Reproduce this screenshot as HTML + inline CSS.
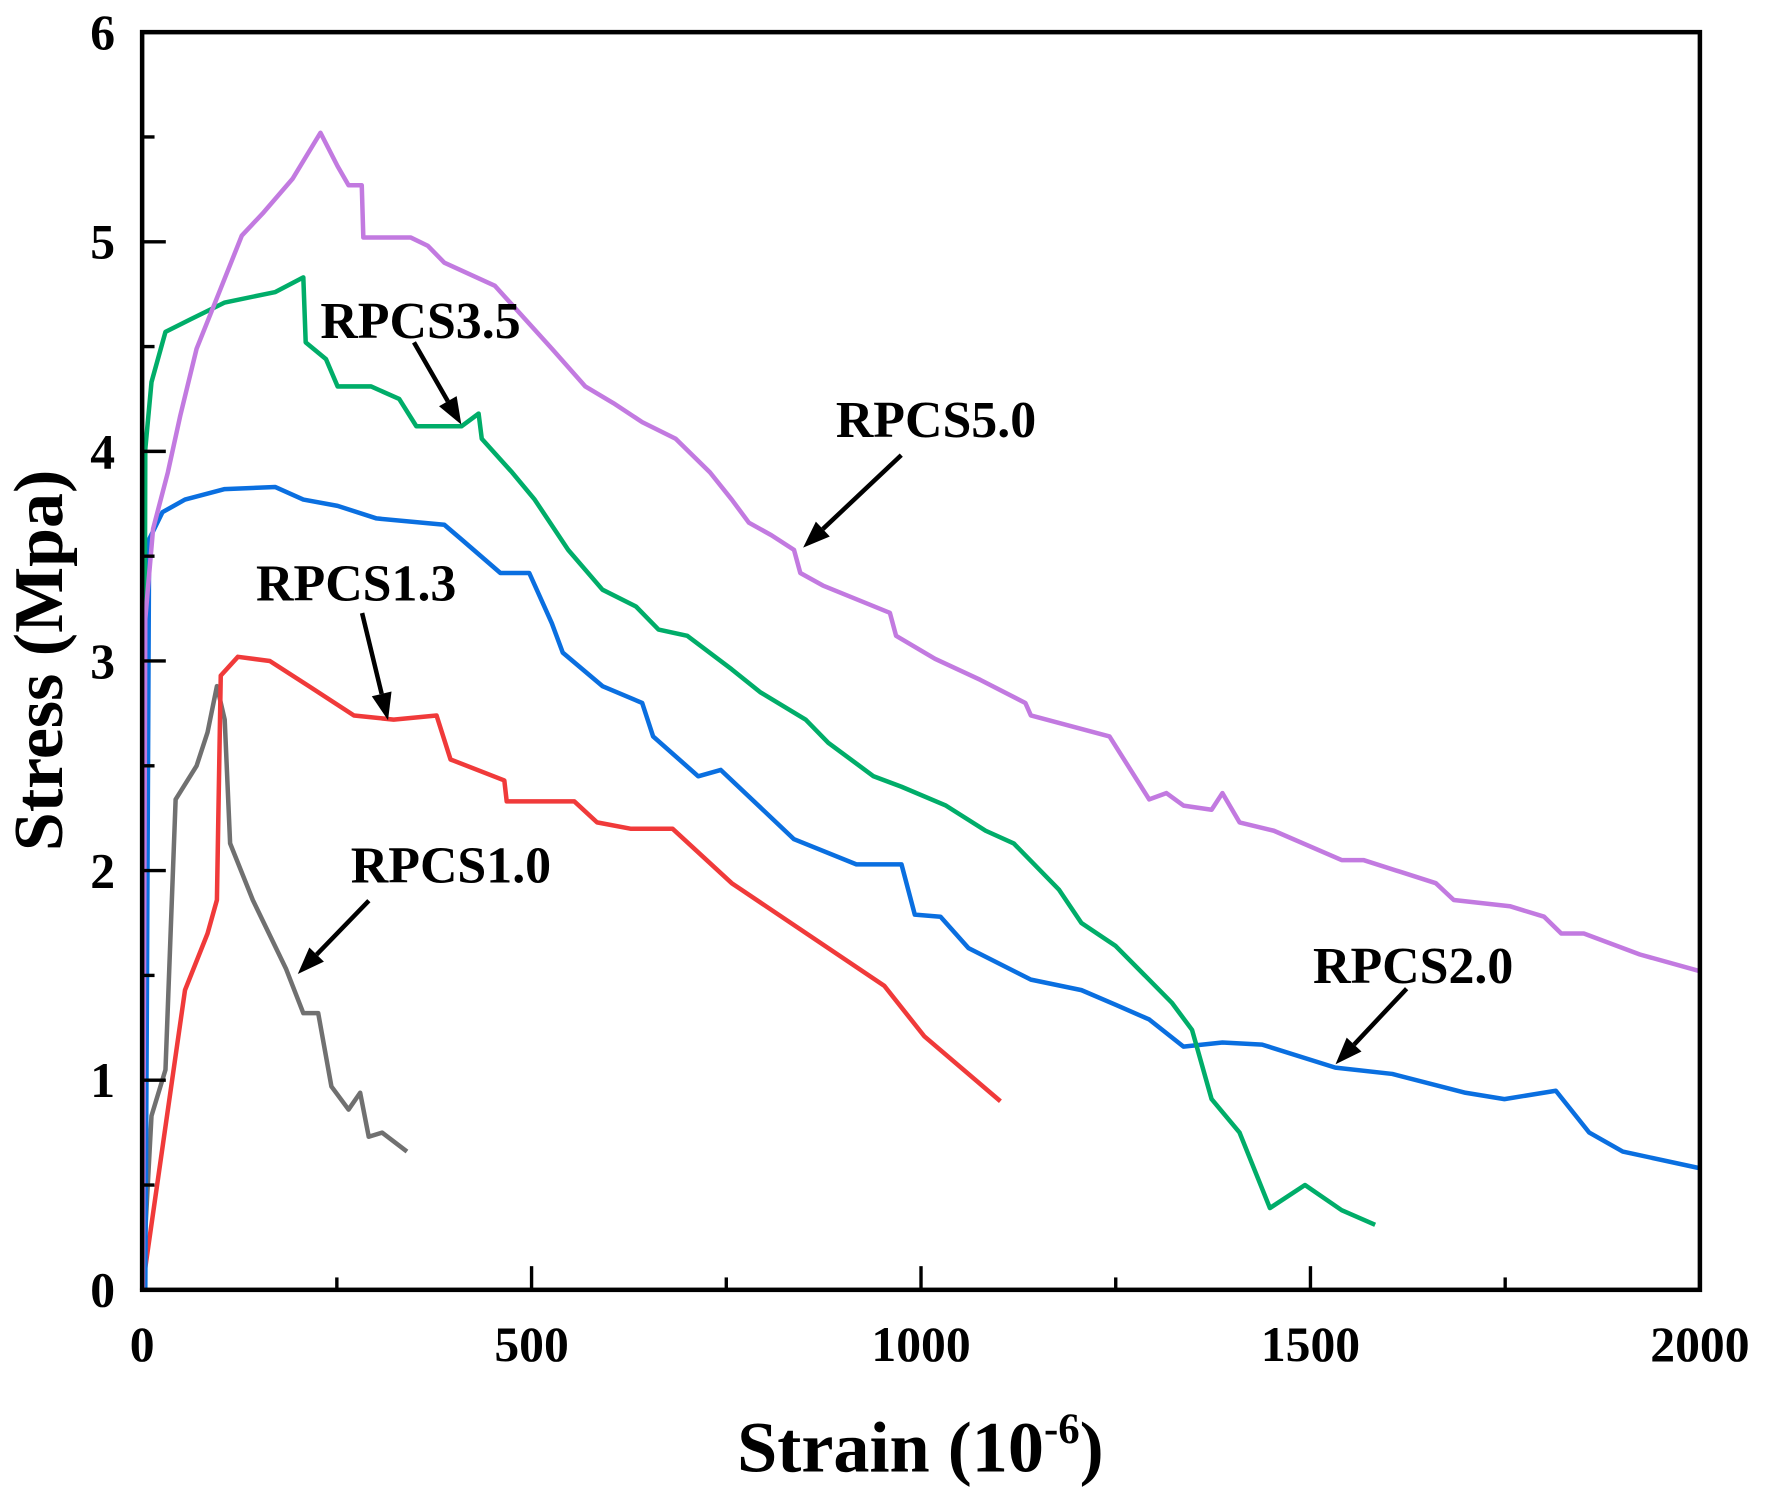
<!DOCTYPE html>
<html><head><meta charset="utf-8"><style>
html,body{margin:0;padding:0;background:#fff;}
svg{display:block;}
text{font-family:"Liberation Serif",serif;font-weight:bold;fill:#000;}
</style></head><body>
<svg id="chart" width="1766" height="1509" viewBox="1 1.5 1565.6 1337.8" preserveAspectRatio="none" xmlns="http://www.w3.org/2000/svg">
<g id="series"></g>
<g id="axes"></g>
<g id="annot"></g>
</svg>
<script>
const xTicks=[0,500,1000,1500,2000];
const yTicks=[0,1,2,3,4,5,6];
const seriesNames=["RPCS1.0","RPCS1.3","RPCS2.0","RPCS3.5","RPCS5.0"];
const seriesColors=["#707070","#f03a3a","#0a6fe0","#00ad69","#c27ae0"];
const s10x=[0,12,30,43,70,84,96,106,113,142,185,207,226,243,265,280,291,308,340];
const s10y=[0,0.83,1.05,2.34,2.5,2.66,2.88,2.72,2.13,1.86,1.53,1.32,1.32,0.97,0.86,0.94,0.73,0.75,0.66];
const s13x=[0,55,84,96,101,123,164,214,272,323,378,396,465,468,555,584,627,681,757,953,1004,1102];
const s13y=[0,1.43,1.70,1.86,2.93,3.02,3.0,2.88,2.74,2.72,2.74,2.53,2.43,2.33,2.33,2.23,2.2,2.2,1.94,1.45,1.21,0.9];
const s20x=[4,6,9,26,55,106,171,207,251,301,388,410,460,497,526,540,591,642,656,714,743,837,917,975,992,1025,1061,1141,1206,1250,1293,1337,1387,1438,1532,1605,1699,1749,1815,1858,1901,2000];
const s20y=[0,1.26,3.58,3.71,3.77,3.82,3.83,3.77,3.74,3.68,3.65,3.58,3.42,3.42,3.18,3.04,2.88,2.8,2.64,2.45,2.48,2.15,2.03,2.03,1.79,1.78,1.63,1.48,1.43,1.36,1.29,1.16,1.18,1.17,1.06,1.03,0.94,0.91,0.95,0.75,0.66,0.58];
const s35x=[1,4,12,30,62,106,171,207,210,236,251,294,330,352,410,432,436,475,504,547,591,634,663,700,757,794,852,881,939,975,1032,1083,1119,1177,1206,1250,1322,1348,1373,1409,1448,1493,1540,1583];
const s35y=[0,4.01,4.33,4.57,4.63,4.71,4.76,4.83,4.52,4.44,4.31,4.31,4.25,4.12,4.12,4.18,4.06,3.9,3.77,3.53,3.34,3.26,3.15,3.12,2.96,2.85,2.72,2.61,2.45,2.4,2.31,2.19,2.13,1.91,1.75,1.64,1.37,1.24,0.91,0.75,0.39,0.5,0.38,0.31];
const s50x=[1,4,14,33,49,70,99,128,156,193,229,251,265,282,284,345,367,388,453,526,569,605,642,685,729,757,779,808,837,845,874,960,968,1018,1076,1134,1141,1242,1293,1315,1337,1373,1387,1409,1453,1540,1568,1619,1661,1684,1756,1800,1822,1851,1923,2000];
const s50y=[0,3.2,3.63,3.9,4.17,4.49,4.76,5.03,5.14,5.3,5.52,5.36,5.27,5.27,5.02,5.02,4.98,4.9,4.79,4.49,4.31,4.23,4.14,4.06,3.9,3.77,3.66,3.6,3.53,3.42,3.36,3.23,3.12,3.01,2.91,2.8,2.74,2.64,2.34,2.37,2.31,2.29,2.37,2.23,2.19,2.05,2.05,1.99,1.94,1.86,1.83,1.78,1.7,1.7,1.6,1.52];
const seriesX=[s10x,s13x,s20x,s35x,s50x];
const seriesY=[s10y,s13y,s20y,s35y,s50y];

const NS="http://www.w3.org/2000/svg";
const L=127,R=1508,T=30,B=1145;
function xs(v){return L+(v/2000)*(R-L);}
function ys(v){return B-(v/6)*(B-T);}
function mk(tag,attrs,parent){const e=document.createElementNS(NS,tag);for(const k in attrs)e.setAttribute(k,attrs[k]);parent.appendChild(e);return e;}
const gS=document.getElementById('series'),gA=document.getElementById('axes'),gN=document.getElementById('annot');

for(let i=0;i<seriesNames.length;i++){
  const pts=seriesX[i].map((x,j)=>xs(x).toFixed(1)+','+ys(seriesY[i][j]).toFixed(1)).join(' ');
  const p=mk('polyline',{points:pts,fill:'none',stroke:seriesColors[i],'stroke-width':4,'stroke-linejoin':'round'},gS);
  
  
}
const fr=mk('rect',{x:L,y:T,width:R-L,height:B-T,fill:'none',stroke:'#000','stroke-width':4},gA);


for(let v=0;v<=2000;v+=250){
  const major=v%500===0;
  const t=mk('line',{x1:xs(v),x2:xs(v),y1:B,y2:B-(major?21:11),stroke:'#000','stroke-width':3},gA);
  
  
}
xTicks.forEach(v=>{
  const t=mk('text',{x:xs(v),y:1208,'font-size':44,'text-anchor':'middle'},gA);
  t.textContent=v;
  
  
});
for(let v=0;v<=6;v+=0.5){
  const major=Number.isInteger(v);
  const t=mk('line',{x1:L,x2:L+(major?21:11),y1:ys(v),y2:ys(v),stroke:'#000','stroke-width':3},gA);
  
  
}
yTicks.forEach(v=>{
  const t=mk('text',{x:103,y:ys(v)+15,'font-size':44,'text-anchor':'end'},gA);
  t.textContent=v;
  
  
});
const xt=mk('text',{x:817,y:1306,'font-size':64,'text-anchor':'middle'},gA);
xt.innerHTML='Strain (10<tspan dy="-25" font-size="38">-6</tspan><tspan dy="25">)</tspan>';


const yt=mk('text',{x:0,y:0,'font-size':62,'text-anchor':'middle',transform:'translate(56,587) rotate(-90)'},gA);
yt.textContent='Stress (Mpa)';


const labels=[["RPCS3.5",285,301,368,305,410,378],["RPCS5.0",742,389,800,405,713,487],["RPCS1.3",228,534,322,545,345,640],["RPCS1.0",312,784,328,800,265,865],["RPCS2.0",1165,873,1248,878,1185,945]];
labels.forEach(a=>{
  const t=mk('text',{x:a[1],y:a[2],'font-size':46},gN);
  t.textContent=a[0];
  
  
  const dx=a[5]-a[3],dy=a[6]-a[4],len=Math.hypot(dx,dy),ux=dx/len,uy=dy/len;
  const hx=a[5]-ux*24,hy=a[6]-uy*24;
  const ln=mk('line',{x1:a[3],y1:a[4],x2:hx,y2:hy,stroke:'#000','stroke-width':4},gN);
  
  
  const px=-uy,py=ux;
  const hd=mk('polygon',{points:`${a[5]},${a[6]} ${hx+px*9},${hy+py*9} ${hx-px*9},${hy-py*9}`,fill:'#000'},gN);
  
  
});
</script>
</body></html>
